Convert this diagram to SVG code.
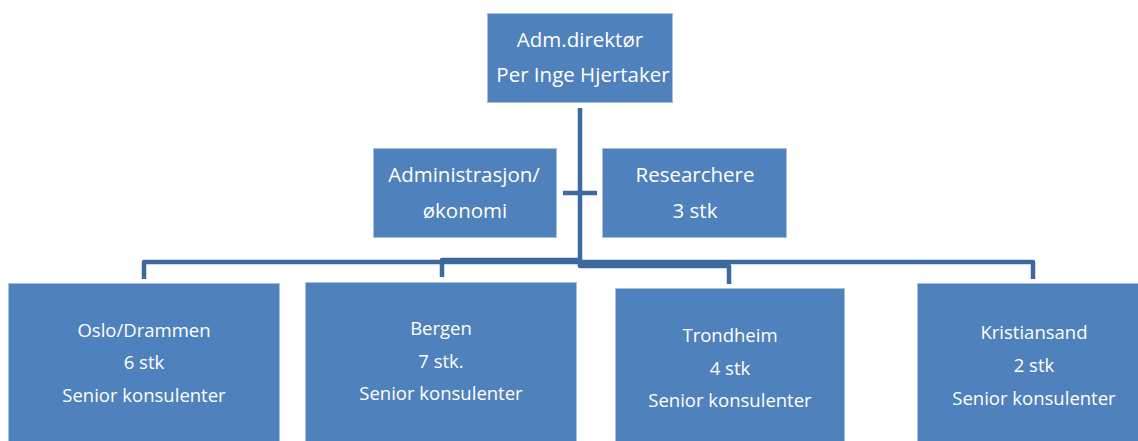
<svg xmlns="http://www.w3.org/2000/svg" width="1138" height="441" viewBox="0 0 1138 441">
<style>
.box{fill:#4F81BD;stroke:#A7BFDE;stroke-width:1}
.t{font-family:"Open Sans","Liberation Sans",sans-serif;font-size:18.5px;fill:#FFFFFF;text-anchor:middle}
.tl{font-size:20.5px}
.c{fill:none;stroke:#3D6A9E;stroke-width:4.5;stroke-linejoin:round}
</style>
<rect width="1138" height="441" fill="#FFFFFF"/>
<g id="connectors">
<path class="c" d="M144,279 V262 H1033 V279"/>
<path class="c" d="M580,260 H442 V277"/>
<path class="c" d="M580,108 V266 H729 V284"/>
<path class="c" d="M563,193 H597"/>
</g>
<g id="adm">
<rect class="box" x="487.5" y="13.5" width="185" height="89"/>
<text class="t tl" x="580" y="47">Adm.direktør</text>
<text class="t tl" x="583" y="82">Per Inge Hjertaker</text>
</g>
<g id="administrasjon">
<rect class="box" x="373.5" y="148.5" width="183" height="89"/>
<text class="t tl" x="464" y="182">Administrasjon/</text>
<text class="t tl" x="465" y="218">økonomi</text>
</g>
<g id="researchere">
<rect class="box" x="602.5" y="148.5" width="184" height="89"/>
<text class="t tl" x="695" y="182">Researchere</text>
<text class="t tl" x="695" y="218">3 stk</text>
</g>
<g id="oslo">
<rect class="box" x="8.5" y="283.5" width="271" height="170"/>
<text class="t" x="144" y="337">Oslo/Drammen</text>
<text class="t" x="144" y="369">6 stk</text>
<text class="t" x="144" y="402">Senior konsulenter</text>
</g>
<g id="bergen">
<rect class="box" x="305.5" y="282.5" width="271" height="170"/>
<text class="t" x="441" y="335">Bergen</text>
<text class="t" x="441" y="368">7 stk.</text>
<text class="t" x="441" y="400">Senior konsulenter</text>
</g>
<g id="trondheim">
<rect class="box" x="615.5" y="288.5" width="229" height="170"/>
<text class="t" x="730" y="342">Trondheim</text>
<text class="t" x="730" y="375">4 stk</text>
<text class="t" x="730" y="407">Senior konsulenter</text>
</g>
<g id="kristiansand">
<rect class="box" x="917.5" y="283.5" width="234" height="170"/>
<text class="t" x="1034" y="339">Kristiansand</text>
<text class="t" x="1034" y="372">2 stk</text>
<text class="t" x="1034" y="405">Senior konsulenter</text>
</g>
</svg>
